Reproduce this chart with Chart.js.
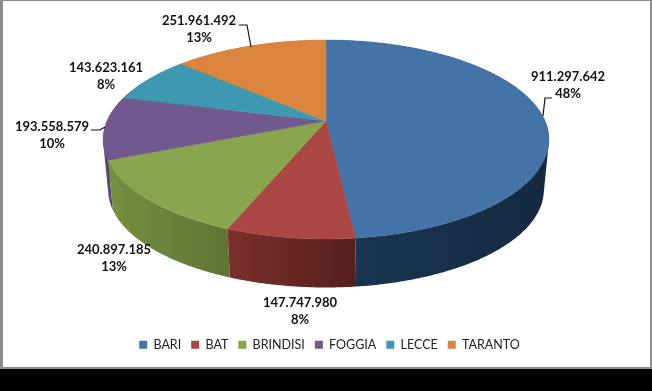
<!DOCTYPE html>
<html>
<head>
<meta charset="utf-8">
<title>Province</title>
<script src="https://cdn.jsdelivr.net/npm/chart.js@4"></script>
<style>
    html, body { margin: 0; padding: 0; background: #000; overflow: hidden; }
    canvas { display: block; }
</style>
</head>
<body>
<canvas id="grafico-province" width="652" height="391"></canvas>
<script>
// dati
const province = ["BARI", "BAT", "BRINDISI", "FOGGIA", "LECCE", "TARANTO"]
const valori = [911297642, 147747980, 240897185, 193558579, 143623161, 251961492]
const valoriTesto = ["911.297.642", "147.747.980", "240.897.185", "193.558.579", "143.623.161", "251.961.492"]
const percentuali = ["48%", "8%", "13%", "10%", "8%", "13%"]

// colori
const coloriFaccia = ["#4473a8", "#aa4643", "#89a54e", "#71588f", "#3f98b1", "#db843d"]
const coloriBordoDa = ["#1a3553", "#7a302c", "#759040", "#5b4572", "#2f7286", "#a8642c"]
const coloriBordoA = ["#152a42", "#571f1c", "#5f7433", "#5b4572", "#2f7286", "#a8642c"]

// posizione delle etichette [x, y della prima riga]
const etichetteX = [568, 300, 114, 52, 106, 199]
const etichetteY = [77, 303, 250, 127, 68, 21]

// linee guida
const guide = [
    [[552, 98], [545, 98], [543, 116]],
    null,
    null,
    [[91, 130], [100, 130], [105, 127]],
    null,
    [[239, 25], [247, 25], [251, 47]]
]

// prospettiva della torta: faccia superiore e base
const k = 0.186
const faccia = { x: 326, y: 121, rx: 219, ry: 96 }
const base = { x: 326, y: 172, rx: 214, ry: 94 }

function proietta(piano, angolo) {
    const teta = angolo + Math.PI / 2
    const u = Math.sin(teta)
    const v = -Math.cos(teta)
    const w = 1 - k * v
    return [piano.x + piano.rx * u / w, piano.y + piano.ry * v / w]
}

function campiona(piano, da, a) {
    const punti = []
    const passi = Math.max(4, Math.ceil(Math.abs(a - da) / 0.01))
    for (let i = 0; i <= passi; i++) {
        punti.push(proietta(piano, da + (a - da) * i / passi))
    }
    return punti
}

// area con segno, per orientare tutti i quadrilateri allo stesso modo
function area(q) {
    let s = 0
    q.forEach((p, n) => {
        const r = q[(n + 1) % q.length]
        s += p[0] * r[1] - r[0] * p[1]
    })
    return s
}

const torta3d = {
    id: 'torta3d',
    beforeDraw(chart) {
        const ctx = chart.ctx
        ctx.save()
        ctx.fillStyle = '#000'
        ctx.fillRect(0, 0, 652, 391)
        ctx.fillStyle = '#8c8c8c'
        ctx.fillRect(0, 0, 652, 369)
        ctx.fillStyle = '#fff'
        ctx.fillRect(3, 1, 647, 366)
        ctx.restore()
    },
    beforeDatasetDraw(chart, args) {
        const ctx = chart.ctx
        const archi = chart.getDatasetMeta(args.index).data

        // pareti laterali, dal fondo verso il davanti
        for (const i of [5, 4, 3, 0, 2, 1]) {
            const { startAngle, endAngle } = archi[i].getProps(['startAngle', 'endAngle'], true)
            const sopra = campiona(faccia, startAngle, endAngle)
            const sotto = campiona(base, startAngle, endAngle)
            const xs = sopra.concat(sotto).map(p => p[0])
            const gradiente = ctx.createLinearGradient(Math.min(...xs), 0, Math.max(...xs), 0)
            gradiente.addColorStop(0, coloriBordoDa[i])
            gradiente.addColorStop(1, coloriBordoA[i])
            ctx.beginPath()
            for (let n = 0; n < sopra.length - 1; n++) {
                const q = [sopra[n], sopra[n + 1], sotto[n + 1], sotto[n]]
                if (area(q) < 0) q.reverse()
                q.forEach((p, m) => m ? ctx.lineTo(p[0], p[1]) : ctx.moveTo(p[0], p[1]))
                ctx.closePath()
            }
            ctx.fillStyle = gradiente
            ctx.fill()
        }

        // faccia superiore
        archi.forEach((arco, i) => {
            const { startAngle, endAngle } = arco.getProps(['startAngle', 'endAngle'], true)
            ctx.beginPath()
            ctx.moveTo(faccia.x, faccia.y)
            campiona(faccia, startAngle, endAngle).forEach(p => ctx.lineTo(p[0], p[1]))
            ctx.closePath()
            ctx.fillStyle = coloriFaccia[i]
            ctx.strokeStyle = coloriFaccia[i]
            ctx.lineWidth = 0.5
            ctx.fill()
            ctx.stroke()
        })
        return false
    },
    afterDatasetsDraw(chart) {
        const ctx = chart.ctx
        ctx.save()
        ctx.strokeStyle = '#111'
        ctx.lineWidth = 1.2
        guide.forEach(linea => {
            if (!linea) return
            ctx.beginPath()
            linea.forEach((p, n) => n ? ctx.lineTo(p[0], p[1]) : ctx.moveTo(p[0], p[1]))
            ctx.stroke()
        })
        ctx.fillStyle = '#111'
        ctx.font = 'bold 13px Lato'
        ctx.textAlign = 'center'
        ctx.textBaseline = 'middle'
        province.forEach((nome, i) => {
            ctx.fillText(valoriTesto[i], etichetteX[i], etichetteY[i])
            ctx.fillText(percentuali[i], etichetteX[i], etichetteY[i] + 16.5)
        })
        ctx.restore()
    }
}

new Chart(document.getElementById('grafico-province'), {
    type: 'pie',
    data: {
        labels: province,
        datasets: [{
            data: valori,
            backgroundColor: coloriFaccia,
            borderWidth: 0
        }]
    },
    options: {
        responsive: false,
        animation: false,
        layout: { padding: { left: 7, bottom: 30 } },
        plugins: {
            legend: {
                position: 'bottom',
                labels: {
                    boxWidth: 8,
                    boxHeight: 8,
                    padding: 10,
                    color: '#222',
                    font: { family: 'Lato', size: 12.5 }
                }
            },
            tooltip: { enabled: false }
        }
    },
    plugins: [torta3d]
})
</script>
</body>
</html>
